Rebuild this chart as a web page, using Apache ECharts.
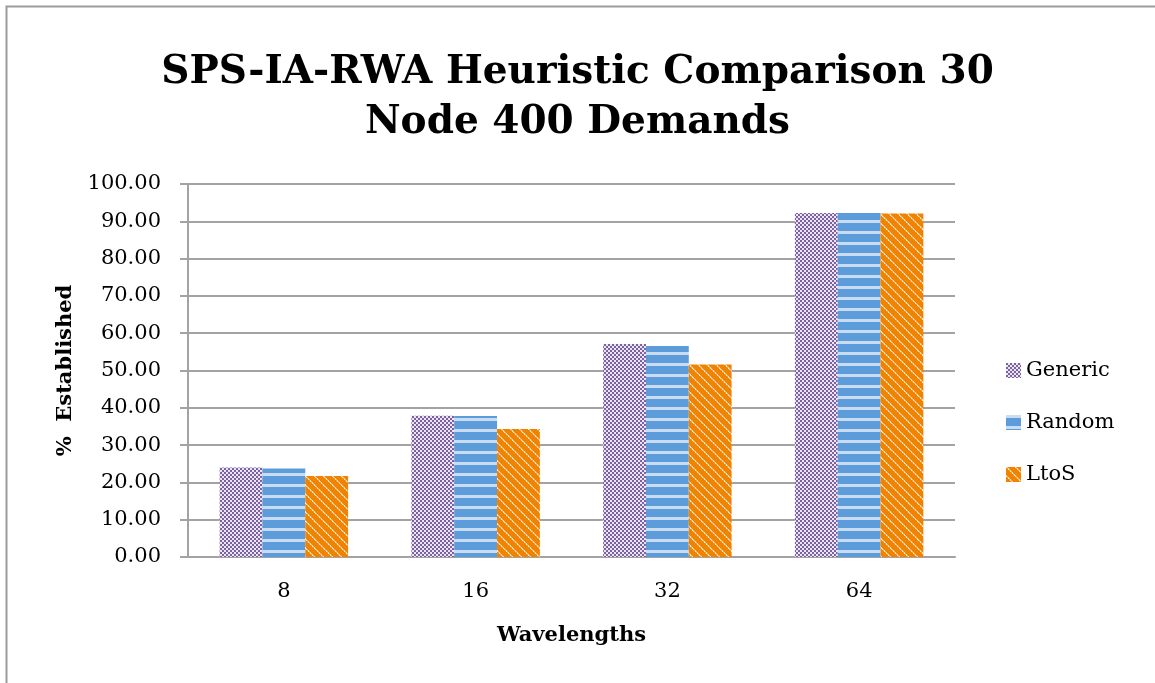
<!DOCTYPE html>
<html><head><meta charset="utf-8">
<script src="https://cdn.jsdelivr.net/npm/echarts@6/dist/echarts.min.js"></script>
<style>html,body{margin:0;padding:0;background:#fff}#c{width:1155px;height:683px}</style>
</head><body><div id="c"></div>
<script>
const categories = ['8', '16', '32', '64'];
const seriesNames = ['Generic', 'Random', 'LtoS'];
const generic = [24.0, 37.9, 57.1, 92.2];
const random = [23.7, 37.8, 56.6, 92.2];
const ltos = [21.7, 34.3, 51.6, 92.1];
const yTicks = { min: 0, max: 100, interval: 10 };

function makePattern(kind) {
  const c = document.createElement('canvas');
  const ctx = c.getContext('2d');
  if (kind === 'check') {
    c.width = 4; c.height = 4;
    ctx.fillStyle = '#ebe5f1'; ctx.fillRect(0, 0, 4, 4);
    ctx.fillStyle = '#7c62a0';
    ctx.fillRect(0, 0, 2, 2); ctx.fillRect(2, 2, 2, 2);
  } else if (kind === 'hstripe') {
    c.width = 8; c.height = 11;
    ctx.fillStyle = '#5d9cda'; ctx.fillRect(0, 0, 8, 11);
    ctx.fillStyle = '#c9dcf2'; ctx.fillRect(0, 0, 8, 3);
  } else {
    const n = 9;
    c.width = n; c.height = n;
    ctx.fillStyle = '#f08300'; ctx.fillRect(0, 0, n, n);
    for (let i = 0; i < n; i++) {
      ctx.fillStyle = (i % 2 === 0) ? '#fee6c9' : '#f6a95c';
      ctx.fillRect(i, i, 1, 1);
      ctx.fillStyle = (i % 2 === 0) ? '#f7b877' : '#fcd8ae';
      ctx.fillRect((i + 1) % n, i, 1, 1);
    }
  }
  return { image: c, repeat: 'repeat' };
}
const patterns = [makePattern('check'), makePattern('hstripe'), makePattern('diag')];
const dataSets = [generic, random, ltos];

const chart = echarts.init(document.getElementById('c'), null, { renderer: 'canvas' });
const serif = 'DejaVu Serif';
chart.setOption({
  animation: false,
  backgroundColor: '#fff',
  graphic: [{
    type: 'rect', left: 4, top: 4, shape: { width: 1200, height: 740 },
    style: { fill: 'none', stroke: '#9c9c9c', lineWidth: 2 }, silent: true
  }],
  title: {
    text: 'SPS-IA-RWA Heuristic Comparison 30\nNode 400 Demands',
    left: 'center', top: 43, itemGap: 0,
    textStyle: { fontFamily: serif, fontWeight: 'bold', fontSize: 39, lineHeight: 50, color: '#000' }
  },
  legend: {
    orient: 'vertical', left: 1001, top: 355, itemGap: 31,
    itemWidth: 15, itemHeight: 15, icon: 'rect',
    textStyle: { fontFamily: serif, fontSize: 21, color: '#000' },
    data: seriesNames
  },
  grid: { left: 188, right: 200, top: 184, bottom: 126, containLabel: false },
  xAxis: {
    type: 'category', data: categories,
    name: 'Wavelengths', nameLocation: 'middle', nameGap: 68,
    nameTextStyle: { fontFamily: serif, fontWeight: 'bold', fontSize: 21, color: '#000' },
    axisLine: { lineStyle: { color: '#a3a3a3', width: 2 } },
    axisTick: { show: false },
    axisLabel: { fontFamily: serif, fontSize: 21, color: '#000', margin: 24 }
  },
  yAxis: {
    type: 'value', min: yTicks.min, max: yTicks.max, interval: yTicks.interval,
    name: '%  Established', nameLocation: 'middle', nameGap: 112, nameRotate: 90,
    nameTextStyle: { fontFamily: serif, fontWeight: 'bold', fontSize: 21, color: '#000' },
    axisLine: { show: true, lineStyle: { color: '#a3a3a3', width: 2 } },
    axisTick: { show: true, length: 8, lineStyle: { color: '#a3a3a3', width: 2 } },
    splitLine: { lineStyle: { color: '#a3a3a3', width: 2 } },
    axisLabel: { fontFamily: serif, fontSize: 21, color: '#000', margin: 27, formatter: v => v.toFixed(2) }
  },
  series: seriesNames.map((n, i) => ({
    name: n, type: 'bar', data: dataSets[i],
    barGap: '0%', barCategoryGap: '33%',
    itemStyle: { color: patterns[i] }
  }))
});
</script></body></html>
